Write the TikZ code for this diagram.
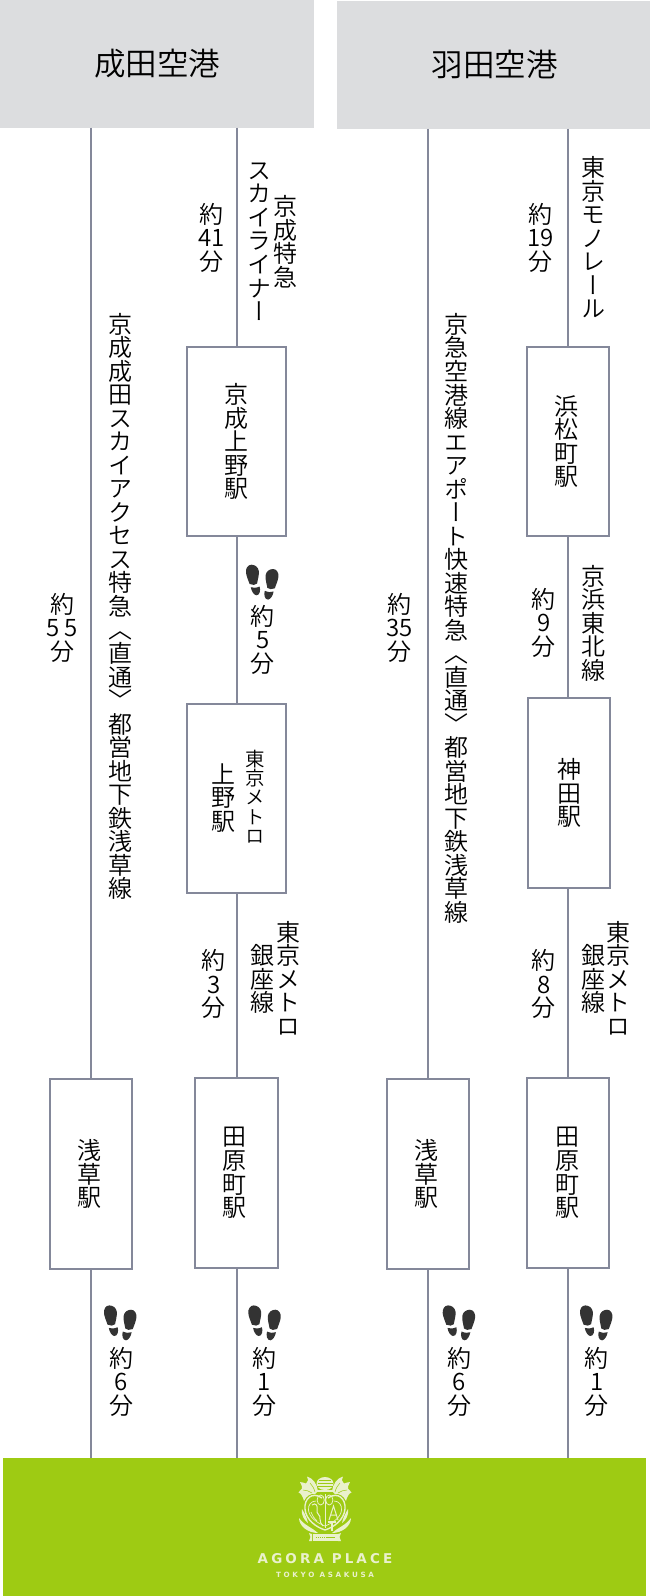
\documentclass[tikz,border=0pt]{standalone}
\usepackage{fontspec}
\setmainfont[RawFeature={+vert}]{Noto Sans CJK JP DemiLight}
\newfontfamily\logofont{DejaVu Sans}
\definecolor{airport}{HTML}{DCDDDF}
\definecolor{railgray}{HTML}{84889A}
\definecolor{hotel}{HTML}{9ECB13}
\definecolor{crest}{HTML}{EAF1CC}
\definecolor{shoe}{HTML}{333333}
\makeatletter
\newcommand{\vtext}[1]{\vbox{\baselineskip=0.98em\lineskiplimit=-100pt\@tfor\vch:=#1\do{\hbox to 1em{\hss\vch\hss}}}}
\makeatother
\tikzset{
	airportbox/.style={fill=airport,inner sep=0pt,font=\fontsize{31.5}{31.5}\selectfont},
	stn/.style={draw=railgray,fill=white,line width=2pt,inner sep=0pt,minimum width=82.5pt,minimum height=189.5pt,font=\fontsize{24}{24}\selectfont},
	stnwide/.style={stn,minimum width=99.5pt},
	rail/.style={draw=railgray,line width=2pt},
	lbl/.style={inner sep=0pt,xshift=0.8pt,font=\fontsize{24}{24}\selectfont},
	lblsmall/.style={inner sep=0pt,xshift=0.8pt,font=\fontsize{19.5}{19.5}\selectfont},
	footprint/.pic={
		\foreach \fx/\fy/\fs in {-0.4/0/1,31.4/4.3/-1}
			\fill[shoe,shift={(\fx,\fy)},xscale=\fs]
				(5,-0.3) .. controls (1.5,-0.3) and (-0.8,3.5) .. (-0.3,7.5) .. controls (0,11) and (2.3,16) .. (3.3,19) .. controls (6,20.5) and (9.5,20) .. (10.8,18.5) .. controls (11.3,15) and (13,10) .. (12.5,6) .. controls (12,2) and (8.5,-0.3) .. (5,-0.3) -- cycle
				(4.5,22.2) .. controls (7,23.2) and (10,23) .. (13.3,21.5) .. controls (14.5,25) and (13.5,30.5) .. (10,30.3) .. controls (7.5,30) and (5,26) .. (4.5,22.2) -- cycle;
	},
	crestmark/.pic={
		\foreach \fs in {1,-1}{
			\begin{scope}[xscale=\fs]
				\fill[crest] (7,-17) .. controls (8,-24) and (12,-30) .. (18,-31.5) .. controls (16.5,-28) and (17,-26) .. (19,-24.5) .. controls (21,-25) and (23,-26) .. (25,-26) .. controls (23.5,-23) and (22.5,-21) .. (23,-19.5) .. controls (24,-18.5) and (25.5,-17) .. (26.5,-15.5) .. controls (24,-15) and (22,-11) .. (21,-7) .. controls (19,-12) and (14,-15) .. (10,-14) -- cycle;
				\draw[hotel,line width=0.5pt] (10,-16) .. controls (11,-20) and (13,-23) .. (15,-25) (13,-15) .. controls (16,-17) and (19,-18) .. (22,-18);
				\draw[crest,line width=1.4pt] (3,-10) .. controls (13,-17) and (21,-9) .. (20,1) .. controls (19,12) and (9,19) .. (0,22);
				\draw[crest,line width=0.7pt] (9,-7) .. controls (14,-7) and (17,-3) .. (16.5,2) .. controls (16,9) and (8,15) .. (0,18);
				\fill[crest] (26,10) .. controls (26,18) and (17,25) .. (7,25) .. controls (12,20) and (20,18) .. (26,10) -- cycle;
				\fill[crest] (23,1) .. controls (24,7) and (21,12) .. (17,15) .. controls (18,10) and (20,6) .. (23,1) -- cycle;
				\draw[crest,line width=0.8pt] (4.3,-8) ellipse (3.6 and 5);
				\fill[crest] (13,26) -- (16,25) -- (14.5,29) -- (16,33) -- (13,33) -- cycle;
			\end{scope}
		}
		\fill[crest] (0,-24.5) ellipse (8.5 and 6.5);
		\fill[crest] (-9,-18.5) rectangle (9,-16);
		\fill[crest] (-12.5,26) rectangle (12.5,33);
		\draw[hotel,line width=1.1pt,dash pattern=on 1.5pt off 0.6pt] (-9.5,29.5) -- (9.5,29.5);
		\draw[hotel,line width=0.3pt] (-6,-28) -- (6,-28) (-7.5,-25) -- (7.5,-25) (-8,-22) -- (8,-22);
		\draw[crest,line width=1pt] (4,12) -- (8.5,-2) -- (13,12) (5.5,7) -- (11.5,7);
		\draw[crest,line width=1.2pt] (3,14) -- (11,14) (7,14) -- (7,23);
		\draw[crest,line width=1pt] (-13,-3) .. controls (-9,-6) and (-7,-2) .. (-8,2) .. controls (-9,6) and (-4,7) .. (-5,11) .. controls (-6,14) and (-3,16) .. (-2,18);
		\draw[crest,line width=0.7pt] (-14,4) .. controls (-12,8) and (-11,11) .. (-8,13);
		\draw[crest,line width=1pt] (0,-14) -- (0,20);
	}
}
\begin{document}
\begin{tikzpicture}[x=1pt,y=-1pt]
	\useasboundingbox (0,0) rectangle (650,1596);
	\node[airportbox,minimum width=314pt,minimum height=127.5pt] at (157,63.75) (narita) {\raisebox{-2pt}{成田空港}};
	\node[airportbox,minimum width=313.4pt,minimum height=127.6pt] at (493.3,64.8) (haneda) {\kern3pt\raisebox{-2pt}{羽田空港}};
	\node[fill=hotel,inner sep=0pt,minimum width=642.7pt,minimum height=137.7pt] at (324.35,1527.15) (hotel) {};

	\node[stnwide] at (236.5,441.6) (keiseiueno) {\vtext{京成上野駅}};
	\node[stnwide] at (236.5,798.6) (ueno) {};
	\node[stn] at (91,1174) (asakusaA) {\vtext{浅草駅}\kern3pt};
	\node[stn] at (236.5,1173) (tawaramachiA) {\vtext{田原町駅}\raisebox{-1.5pt}{\kern3.8pt}};
	\node[stn] at (568,441.6) (hamamatsucho) {\vtext{浜松町駅}\kern3pt};
	\node[stn] at (569,793) (kanda) {\vtext{神田駅}};
	\node[stn] at (428,1174) (asakusaB) {\vtext{浅草駅}\kern3pt};
	\node[stn] at (568,1173) (tawaramachiB) {\vtext{田原町駅}\kern1.5pt};

	\draw[rail] (asakusaA.north |- narita.south) -- (asakusaA.north);
	\draw[rail] (asakusaA.south) -- (asakusaA.south |- hotel.north);
	\draw[rail] (keiseiueno.north |- narita.south) -- (keiseiueno.north);
	\draw[rail] (keiseiueno.south) -- (keiseiueno.south |- ueno.north);
	\draw[rail] (ueno.south) -- (ueno.south |- tawaramachiA.north);
	\draw[rail] (tawaramachiA.south) -- (tawaramachiA.south |- hotel.north);
	\draw[rail] (asakusaB.north |- haneda.south) -- (asakusaB.north);
	\draw[rail] (asakusaB.south) -- (asakusaB.south |- hotel.north);
	\draw[rail] (hamamatsucho.north |- haneda.south) -- (hamamatsucho.north);
	\draw[rail] (hamamatsucho.south) -- (hamamatsucho.south |- kanda.north);
	\draw[rail] (hamamatsucho.south |- kanda.south) -- (tawaramachiB.north);
	\draw[rail] (tawaramachiB.south) -- (tawaramachiB.south |- hotel.north);

	\node[lbl] at (284.8,241.6) (keiseitokkyu) {\vtext{京成特急}};
	\node[lbl] at (259,241.7) (skyliner) {\vtext{スカイライナー}};
	\node[lbl] at (210.6,237.5) (time41) {\vtext{約{41}分}};
	\node[lbl] at (120,606.3) (accessline) {\vtext{京成成田スカイアクセス特急〈直通〉都営地下鉄浅草線}};
	\node[lbl] at (61.4,627.5) (time55) {\vtext{約{5\kern5pt5}分}};
	\node[lbl] at (262,639.8) (time5) {\vtext{約5分}};
	\node[lbl] at (222.6,798) (uenoname) {\vtext{上野駅}};
	\node[lblsmall] at (254,796.8) (uenometro) {\vtext{東京メトロ}};
	\node[lbl] at (213,984.1) (time3) {\vtext{約3分}};
	\node[lbl] at (262,979.3) (ginzaA) {\vtext{銀座線}};
	\node[lbl] at (287.3,978.3) (metroA) {\vtext{東京メトロ}};
	\node[lbl] at (120.3,1381.5) (time6A) {\vtext{約6分}};
	\node[lbl] at (263.4,1381.5) (time1A) {\vtext{約1分}};

	\node[lbl] at (592.9,237.5) (monorail) {\vtext{東京モノレール}};
	\node[lbl] at (539.8,237.5) (time19) {\vtext{約{19}分}};
	\node[lbl] at (455.2,618.3) (airportline) {\vtext{京急空港線エアポート快速特急〈直通〉都営地下鉄浅草線}};
	\node[lbl] at (398.8,627.5) (time35) {\vtext{約{35}分}};
	\node[lbl] at (592.9,623.3) (keihin) {\vtext{京浜東北線}};
	\node[lbl] at (543,622.5) (time9) {\vtext{約9分}};
	\node[lbl] at (543,984.1) (time8) {\vtext{約8分}};
	\node[lbl] at (592.9,979.3) (ginzaB) {\vtext{銀座線}};
	\node[lbl] at (617.3,978.3) (metroB) {\vtext{東京メトロ}};
	\node[lbl] at (458.7,1381.5) (time6B) {\vtext{約6分}};
	\node[lbl] at (596,1381.5) (time1B) {\vtext{約1分}};

	\pic at (246.7,565) {footprint};
	\pic at (104.7,1305.7) {footprint};
	\pic at (249,1305.7) {footprint};
	\pic at (443.4,1305.7) {footprint};
	\pic at (580.7,1305.7) {footprint};

	\pic at (325,1508) {crestmark};
	\node[inner sep=0pt,text=crest,font=\logofont\bfseries\fontsize{13.5}{13.5}\selectfont\addfontfeatures{LetterSpace=23}] at (325,1559) (agora) {AGORA PLACE};
	\node[inner sep=0pt,text=crest,font=\logofont\bfseries\fontsize{7.2}{7.2}\selectfont\addfontfeatures{LetterSpace=37}] at (325,1575.3) (asakusa) {TOKYO ASAKUSA};
\end{tikzpicture}
\end{document}
